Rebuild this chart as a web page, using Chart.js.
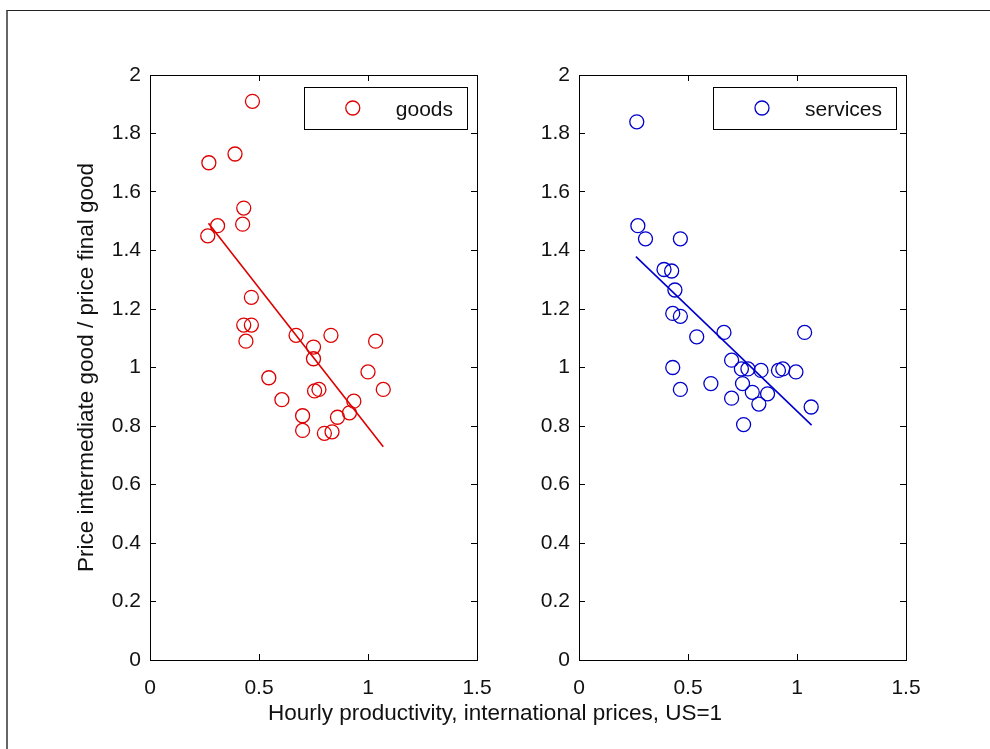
<!DOCTYPE html>
<html>
<head>
<meta charset="utf-8">
<title>Intermediate vs final good prices</title>
<script src="https://cdn.jsdelivr.net/npm/chart.js@4.4.1/dist/chart.umd.min.js"></script>
<style>
  body { margin: 0; background: #fff; }
  #figure { position: relative; width: 990px; height: 749px; overflow: hidden; background: #fff; }
  #frame { position: absolute; left: 6px; top: 10px; width: 990px; height: 760px;
           border-top: 1px solid #222; border-left: 2px solid #666; }
  canvas { position: absolute; left: 0; top: 0; }
</style>
</head>
<body>
<div id="figure">
  <div id="frame"></div>
  <canvas id="goodsChart" width="990" height="749"></canvas>
  <canvas id="servicesChart" width="990" height="749"></canvas>
</div>
<script>
// Tick values
const xTicks = [0, 0.5, 1, 1.5];
const yTicks = [0, 0.2, 0.4, 0.6, 0.8, 1, 1.2, 1.4, 1.6, 1.8, 2];

// Goods: hourly productivity vs price ratio
const goodsX = [0.47, 0.27, 0.39, 0.43, 0.425, 0.31, 0.265, 0.465, 0.43, 0.465,
                0.44, 0.67, 0.83, 0.75, 0.75, 1.035, 1.0, 1.07, 0.545, 0.605,
                0.755, 0.775, 0.935, 0.915, 0.86, 0.70, 0.70, 0.80, 0.835];
const goodsY = [1.91, 1.70, 1.73, 1.545, 1.49, 1.485, 1.45, 1.24, 1.145, 1.145,
                1.09, 1.11, 1.11, 1.07, 1.03, 1.09, 0.985, 0.925, 0.965, 0.89,
                0.92, 0.925, 0.885, 0.845, 0.83, 0.835, 0.785, 0.775, 0.78];
const goodsFitX = [0.268, 1.07];
const goodsFitY = [1.493, 0.729];

// Services
const servicesX = [0.265, 0.27, 0.305, 0.465, 0.39, 0.425, 0.44, 0.43, 0.465, 0.54,
                   0.665, 1.035, 0.70, 0.745, 0.775, 0.835, 0.915, 0.935, 0.995, 0.43,
                   0.465, 0.605, 0.75, 0.70, 0.795, 0.865, 0.825, 1.065, 0.755];
const servicesY = [1.84, 1.485, 1.44, 1.44, 1.335, 1.33, 1.265, 1.185, 1.175, 1.105,
                   1.12, 1.12, 1.025, 0.995, 0.995, 0.99, 0.99, 0.995, 0.985, 1.0,
                   0.925, 0.945, 0.945, 0.895, 0.915, 0.91, 0.875, 0.865, 0.805];
const servicesFitX = [0.261, 1.067];
const servicesFitY = [1.379, 0.803];

const xTitle = 'Hourly productivity, international prices, US=1';
const yTitle = 'Price intermediate good / price final good';

const FONT = '"Liberation Sans", Arial, Helvetica, sans-serif';
const TEXT_COLOR = '#111';

// Turn two arrays into {x, y} points
function toPoints(xs, ys) {
    return xs.map((x, i) => ({ x: x, y: ys[i] }));
}

// Legend drawn inside the plot box, top right, like MATLAB
const insideLegend = {
    id: 'insideLegend',
    afterDraw(chart) {
        const ds = chart.data.datasets[0];
        const area = chart.chartArea;
        const ctx = chart.ctx;
        ctx.save();
        ctx.font = '21px ' + FONT;
        const w = 92 + ctx.measureText(ds.label).width + 14;
        const h = 42;
        const right = area.right - 10;
        const top = area.top + 12;
        const left = right - w;
        ctx.fillStyle = '#fff';
        ctx.fillRect(left, top, w, h);
        ctx.strokeStyle = '#000';
        ctx.lineWidth = 1;
        ctx.strokeRect(Math.round(left) + 0.5, top + 0.5, Math.round(w), h);
        ctx.beginPath();
        ctx.arc(left + 49, top + h / 2, 7, 0, Math.PI * 2);
        ctx.strokeStyle = ds.borderColor;
        ctx.lineWidth = 1.3;
        ctx.stroke();
        ctx.fillStyle = TEXT_COLOR;
        ctx.textBaseline = 'middle';
        ctx.fillText(ds.label, left + 92, top + h / 2 + 2);
        ctx.restore();
    }
};

// Axis with inward tick marks
function boxAxis(position, ticks, showLabels, size) {
    const horizontal = position === 'top' || position === 'bottom';
    return {
        type: 'linear',
        position: position,
        min: ticks[0],
        max: ticks[ticks.length - 1],
        afterBuildTicks: (s) => { s.ticks = ticks.map(v => ({ value: v })); },
        afterFit: (s) => { if (horizontal) { s.height = size; } else { s.width = size; } },
        grid: { drawOnChartArea: false, drawTicks: true, tickLength: -6, color: '#000', lineWidth: 1 },
        border: { display: true, color: '#000', width: 1 },
        ticks: {
            display: showLabels,
            padding: horizontal ? 22 : 15,
            color: TEXT_COLOR,
            font: { family: FONT, size: 21 },
            callback: (v) => String(v)
        }
    };
}

function makePanel(canvasId, label, color, xs, ys, fitX, fitY, layout) {
    const scales = {
        x: boxAxis('bottom', xTicks, true, 40),
        xt: boxAxis('top', xTicks, false, 75),
        y: boxAxis('left', yTicks, true, layout.leftWidth),
        yr: boxAxis('right', yTicks, false, layout.rightWidth)
    };
    if (layout.yTitle) {
        scales.y.title = {
            display: true,
            text: layout.yTitle,
            color: TEXT_COLOR,
            font: { family: FONT, size: 22.5 },
            padding: { top: 73, bottom: 0 }
        };
    }
    return new Chart(document.getElementById(canvasId).getContext('2d'), {
        type: 'scatter',
        data: {
            datasets: [{
                label: label,
                data: toPoints(xs, ys),
                borderColor: color,
                backgroundColor: 'rgba(0,0,0,0)',
                pointStyle: 'circle',
                pointRadius: 7,
                pointBorderWidth: 1.3
            }, {
                label: label + ' fit',
                type: 'line',
                data: toPoints(fitX, fitY),
                borderColor: color,
                borderWidth: 1.6,
                pointRadius: 0,
                fill: false
            }]
        },
        options: {
            responsive: false,
            animation: false,
            devicePixelRatio: 1,
            layout: { padding: { left: 0, right: 0, top: 0, bottom: layout.bottomPad } },
            scales: scales,
            plugins: {
                legend: { display: false },
                tooltip: { enabled: false },
                title: layout.xTitle ? {
                    display: true,
                    position: 'bottom',
                    text: layout.xTitle,
                    color: TEXT_COLOR,
                    font: { family: FONT, size: 22.5, weight: 'normal' },
                    padding: { top: 0, bottom: 0 }
                } : { display: false }
            }
        },
        plugins: [insideLegend]
    });
}

makePanel('goodsChart', 'goods', '#dd0000', goodsX, goodsY, goodsFitX, goodsFitY,
    { leftWidth: 150, rightWidth: 513, bottomPad: 22, yTitle: yTitle, xTitle: xTitle });
makePanel('servicesChart', 'services', '#0000cc', servicesX, servicesY, servicesFitX, servicesFitY,
    { leftWidth: 579, rightWidth: 84, bottomPad: 49 });
</script>
</body>
</html>
